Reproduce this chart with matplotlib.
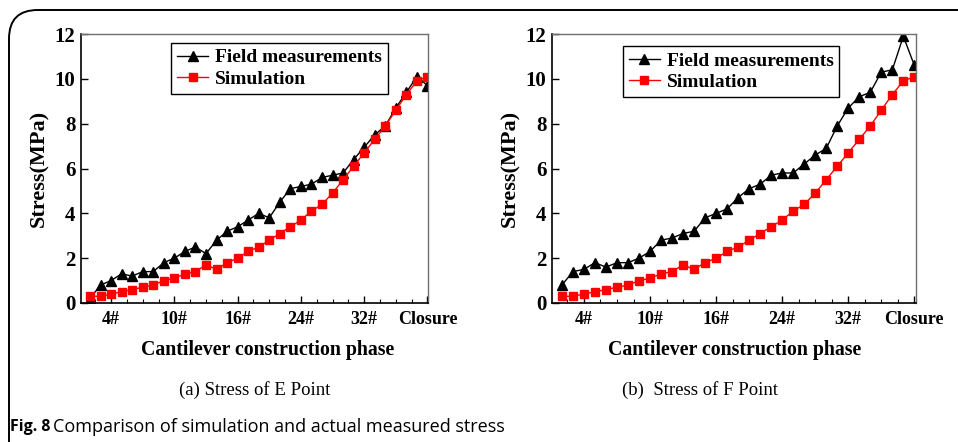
import matplotlib
matplotlib.use("Agg")
import matplotlib.pyplot as plt
from matplotlib.patches import FancyBboxPatch
from matplotlib.ticker import FixedLocator, MultipleLocator

# Construction stages (1 .. 33) and the stress values at each stage
stages = list(range(1, 34))

field_E = [0.2, 0.8, 1.0, 1.3, 1.2, 1.4, 1.4, 1.8, 2.0, 2.3, 2.5, 2.2, 2.8,
           3.2, 3.4, 3.7, 4.0, 3.8, 4.5, 5.1, 5.2, 5.3, 5.6, 5.7, 5.8, 6.4,
           6.95, 7.5, 7.9, 8.7, 9.4, 10.1, 9.7]
sim_E = [0.3, 0.3, 0.4, 0.5, 0.6, 0.7, 0.8, 1.0, 1.1, 1.3, 1.4, 1.7, 1.5,
         1.8, 2.0, 2.3, 2.5, 2.8, 3.1, 3.4, 3.7, 4.1, 4.4, 4.9, 5.5, 6.1,
         6.7, 7.3, 7.9, 8.6, 9.3, 9.9, 10.1]

field_F = [0.8, 1.4, 1.5, 1.8, 1.6, 1.8, 1.8, 2.0, 2.3, 2.8, 2.9, 3.1, 3.2,
           3.8, 4.0, 4.2, 4.7, 5.1, 5.3, 5.7, 5.8, 5.8, 6.2, 6.6, 6.9, 7.9,
           8.7, 9.2, 9.4, 10.3, 10.4, 11.9, 10.6]
sim_F = [0.3, 0.3, 0.4, 0.5, 0.6, 0.7, 0.8, 1.0, 1.1, 1.3, 1.4, 1.7, 1.5,
         1.8, 2.0, 2.3, 2.5, 2.8, 3.1, 3.4, 3.7, 4.1, 4.4, 4.9, 5.5, 6.1,
         6.7, 7.3, 7.9, 8.6, 9.3, 9.9, 10.1]

tick_pos = [3, 9, 15, 21, 27, 33]
tick_labels = ["4#", "10#", "16#", "24#", "32#", "Closure"]

serif = "Liberation Serif"

fig = plt.figure(figsize=(9.58, 4.42), dpi=100)

# Outer frame with a rounded top-left corner
frame = FancyBboxPatch((9 / 958, -0.2), 1.2, 1.2 - 10 / 442,
                       boxstyle="round,pad=0,rounding_size=0.03",
                       transform=fig.transFigure, fill=False,
                       edgecolor="black", linewidth=1.4, mutation_aspect=958 / 442)
fig.patches.append(frame)


def panel(rect, field, sim, xlim, leg_anchor, xlabel_x, caption, cap_x):
    ax = fig.add_axes(rect)
    ax.plot(stages, field, color="black", marker="^", markersize=7,
            linewidth=1.0, label="Field measurements")
    ax.plot(stages, sim, color="red", marker="s", markersize=5.5,
            linewidth=1.0, label="Simulation")
    ax.set_xlim(*xlim)
    ax.set_ylim(0, 12)
    ax.xaxis.set_major_locator(FixedLocator(tick_pos))
    ax.xaxis.set_minor_locator(MultipleLocator(1.5))
    ax.set_xticklabels(tick_labels)
    ax.yaxis.set_major_locator(MultipleLocator(2))
    ax.tick_params(axis="both", which="both", direction="in", top=False,
                   right=False, color="black")
    ax.tick_params(axis="x", which="major", length=5, width=1, pad=6)
    ax.tick_params(axis="x", which="minor", length=3, width=0.8)
    ax.tick_params(axis="y", which="major", length=5, width=1, pad=4)
    for lab in ax.get_xticklabels():
        lab.set_fontfamily(serif)
        lab.set_fontweight("bold")
        lab.set_fontsize(13)
    for lab in ax.get_yticklabels():
        lab.set_fontfamily(serif)
        lab.set_fontweight("bold")
        lab.set_fontsize(15)
    for side in ("left", "bottom"):
        ax.spines[side].set_linewidth(1.2)
        ax.spines[side].set_color("black")
    for side in ("top", "right"):
        ax.spines[side].set_linewidth(1.0)
        ax.spines[side].set_color("#707070")
    ax.set_ylabel("Stress(MPa)", fontfamily=serif, fontweight="bold",
                  fontsize=16, labelpad=4)
    ax.set_xlabel("Cantilever construction phase", fontfamily=serif,
                  fontweight="bold", fontsize=14.3)
    ax.xaxis.set_label_coords(xlabel_x, -0.138)
    leg = ax.legend(loc="upper left", bbox_to_anchor=leg_anchor,
                    prop={"family": serif, "weight": "bold", "size": 14},
                    fancybox=False, edgecolor="black", framealpha=1,
                    handlelength=1.6, handletextpad=0.35, borderpad=0.3,
                    labelspacing=0.2, borderaxespad=0)
    leg.get_frame().set_linewidth(1.0)
    fig.text(cap_x, 1 - 390 / 442, caption, fontfamily=serif, fontsize=13.5,
             ha="center", va="center")
    return ax


axL = panel([81 / 958, 1 - 303 / 442, 347 / 958, 269 / 442],
            field_E, sim_E, (0.15, 33.05), (0.26, 0.967), 0.539,
            "(a) Stress of E Point", 255 / 958)
axR = panel([552 / 958, 1 - 303 / 442, 364 / 958, 269 / 442],
            field_F, sim_F, (0.1, 33.15), (0.195, 0.955), 0.503,
            "(b)  Stress of F Point", 700 / 958)

fig.text(10 / 958, 1 - 427 / 442, "Fig. 8", fontfamily="Open Sans",
         fontweight="bold", fontsize=11.5, ha="left", va="center")
fig.text(53 / 958, 1 - 427 / 442,
         "Comparison of simulation and actual measured stress",
         fontfamily="Open Sans", fontsize=13, ha="left", va="center")

fig.savefig("out.png", dpi=100)
